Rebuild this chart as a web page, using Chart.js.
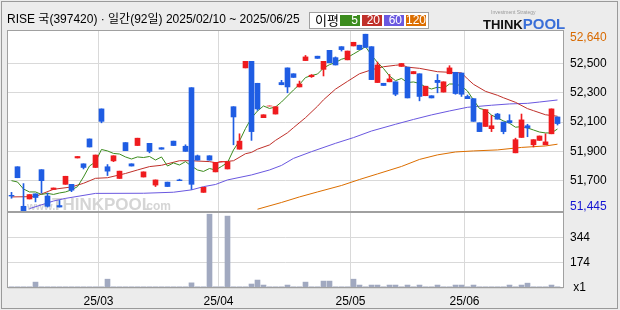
<!DOCTYPE html>
<html>
<head>
<meta charset="utf-8">
<script src="https://cdn.jsdelivr.net/npm/chart.js@4"></script>
<style>
    body{ margin:0; background:#ececec; }
    #wrap{ position:relative; width:620px; height:310px; overflow:hidden; font-family:"Liberation Sans","Noto Sans CJK KR",sans-serif; }
    #chart{ position:absolute; left:0; top:0; }
    #title{ position:absolute; left:7px; top:12px; font-size:12px; line-height:14px; color:#000; white-space:nowrap; }
    #ma_legend{ position:absolute; left:309px; top:12px; width:120px; height:17px; box-sizing:border-box; border:1px solid #a0a0a0; background:#fff; }
    #ma_legend .lbl{ position:absolute; left:5px; top:0; font-size:13px; line-height:15px; }
    #ma_legend .box{ position:absolute; top:2px; width:20px; height:11px; font-size:12px; line-height:11px; color:#fff; text-align:right; box-sizing:border-box; padding-right:2px; }
    #logo{ position:absolute; left:483px; top:9px; white-space:nowrap; }
    #logo .sub{ display:block; font-size:5px; line-height:6px; color:#999; padding-left:8px; }
    #logo .think{ font-weight:bold; font-size:13px; color:#111; }
    #logo .pool{ font-weight:bold; font-size:15px; color:#3a6fd8; }
</style>
</head>
<body>
<div id="wrap">
    <canvas id="chart" width="620" height="310"></canvas>
    <div id="title">RISE 국(397420) · 일간(92일) 2025/02/10 ~ 2025/06/25</div>
    <div id="ma_legend"><span class="lbl">이평</span></div>
    <div id="logo"><span class="sub">Investment Strategy</span><span class="think">THINK</span><span class="pool">POOL</span></div>
</div>
<script>
// daily candles, index 0 = 2025/02/10
const opens = [
    51600,51795,51525,51575,51610,51775,51595,51640,51530,51675,
    51675,51855,51815,51985,51790,52190,51795,51835,51715,51960,
    51815,51940,51725,51955,51670,51925,51690,51970,51705,51935,
    52335,51870,51620,51870,51760,51830,51780,52205,51915,52470,
    52515,52365,52130,52210,52155,52370,52470,52430,52340,52520,
    52410,52550,52460,52590,52540,52615,52525,52620,52625,52700,
    52615,52370,52365,52375,52375,52480,52475,52430,52430,52280,
    52280,52385,52305,52430,52440,52435,52275,52260,52095,52070,
    52055,52155,52100,52110,51890,51995,52075,51945,51975,51945,
    52020,52135];
const highs = [
    51620,51795,51680,51605,51610,51775,51615,51650,51565,51730,
    51675,51865,51815,51985,51875,52190,51810,51870,51765,51960,
    51815,51990,51760,51955,51705,51925,51690,51970,51710,51945,
    52335,51875,51655,51870,51825,51830,51830,52205,52020,52515,
    52515,52365,52150,52210,52205,52385,52470,52430,52380,52555,
    52425,52550,52515,52590,52545,52615,52585,52645,52625,52700,
    52615,52510,52365,52425,52375,52500,52475,52445,52430,52345,
    52280,52425,52375,52485,52440,52435,52285,52260,52095,52185,
    52145,52160,52100,52150,51990,52155,52085,51980,52005,52020,
    52190,52135];
const lows = [
    51580,51720,51495,51575,51555,51615,51520,51640,51520,51675,
    51625,51855,51780,51930,51790,52095,51735,51830,51715,51905,
    51800,51940,51725,51890,51660,51915,51660,51940,51700,51900,
    51640,51840,51620,51840,51760,51830,51780,51945,51915,52470,
    51975,52180,52130,52210,52155,52355,52300,52405,52340,52520,
    52405,52535,52415,52505,52490,52585,52525,52620,52595,52610,
    52390,52370,52350,52375,52280,52480,52265,52430,52245,52280,
    52265,52300,52305,52430,52290,52275,52260,52105,52035,52070,
    52035,52120,52020,52095,51890,51995,52000,51930,51975,51945,
    52020,52080];
const closes = [
    51595,51720,51495,51605,51585,51700,51525,51650,51520,51730,
    51635,51865,51790,51930,51875,52105,51765,51870,51765,51905,
    51800,51990,51760,51900,51705,51915,51660,51940,51700,51900,
    51675,51840,51655,51840,51825,51830,51830,52135,51970,52515,
    52035,52190,52150,52210,52205,52355,52340,52405,52360,52545,
    52420,52535,52515,52505,52490,52595,52585,52645,52595,52610,
    52390,52490,52350,52395,52290,52500,52265,52445,52275,52345,
    52265,52370,52375,52470,52295,52290,52260,52105,52035,52185,
    52075,52120,52035,52095,51980,52115,52060,51980,52005,51965,
    52190,52090];
const volumes = [
    8,8,8,8,40,8,8,8,8,8,
    8,8,8,8,8,8,60,8,8,8,
    8,8,8,8,8,8,8,8,8,8,
    35,8,8,502,8,8,489,8,8,8,
    27,54,20,8,8,8,20,8,8,40,
    8,8,47,47,8,8,8,60,20,8,
    20,20,8,20,20,8,20,8,20,8,
    8,20,8,8,20,20,8,20,8,8,
    8,8,8,20,8,20,33,8,8,8,
    20,8];

// moving averages
const ma5 = [
    51700,51691,51643,51623,51623,51606,51613,51606,51616,51623,
    51637,51659,51725,51800,51828,51913,51903,51886,51882,51862,
    51848,51862,51858,51865,51841,51862,51800,51821,51807,51830,
    51800,51773,51763,51783,51773,51797,51823,51910,51971,52056,
    52128,52176,52210,52193,52203,52237,52278,52319,52357,52404,
    52418,52428,52469,52492,52507,52529,52541,52565,52589,52615,
    52558,52507,52466,52415,52383,52398,52370,52374,52364,52340,
    52326,52338,52331,52360,52360,52346,52312,52251,52193,52183,
    52148,52128,52108,52092,52065,52069,52060,52046,52032,52026,
    52026,52053];
const ma20_days = [0,4,5,7,10,12,14,16,19,21,23,25,28,30,33,34,36,37,39,40,41,43,44,46,47,49,51,52,54,56,58,60,62,64,65,66,68,71,73,75,76,77,79,81,82,84,86,87,89,91];
const ma20 = [51589,51591,51609,51641,51657,51682,51716,51720,51749,51773,51796,51805,51836,51836,51830,51823,51832,51836,51884,51893,51915,51944,51975,52027,52062,52130,52208,52252,52325,52378,52430,52457,52478,52488,52492,52475,52467,52444,52440,52436,52395,52358,52310,52283,52266,52235,52192,52178,52150,52140];
const ma60_days = [3,7,9,14,22,27,30,32,34,36,40,43,45,47,50,54,57,60,64,67,70,73,76,80,83,86,88,91];
const ma60 = [51509,51561,51579,51613,51614,51621,51637,51659,51674,51705,51739,51773,51804,51852,51898,51955,51994,52039,52085,52118,52149,52176,52201,52215,52224,52228,52237,52251];
const ma120_days = [41,45,48,51,55,58,61,65,68,71,74,77,81,85,89,91];
const ma120 = [51505,51551,51589,51623,51667,51708,51746,51797,51845,51876,51896,51903,51910,51927,51937,51949];

const ma_periods = [5, 20, 60, 120];
const ma_colors = ['#3c8c1e', '#c0302a', '#6a58e0', '#dc6e00'];

const month_starts = [15, 35, 57, 76];
const month_labels = ['25/03', '25/04', '25/05', '25/06'];
const price_ticks = [51700, 51900, 52100, 52300, 52500];
const volume_ticks = [0, 174, 344];
const price_high_label = 52640;
const price_low_label = 51445;

const up_color = '#ef1c1f';
const down_color = '#1f5de3';

// legend boxes in the header
const legend = document.getElementById('ma_legend');
ma_periods.forEach((p, k) => {
    const box = document.createElement('span');
    box.className = 'box';
    box.style.left = (30 + k * 22) + 'px';
    box.style.background = ma_colors[k];
    box.textContent = p;
    legend.appendChild(box);
});

function pairs(days, values){
    return values.map((v, k) => ({x: days[k], y: v}));
}

function ma_line(data, color){
    return {
        type: 'line',
        data: data,
        borderColor: color,
        borderWidth: 1,
        pointRadius: 0,
        tension: 0,
        yAxisID: 'y',
        order: 1
    };
}

const candle_colors = closes.map((c, i) => c >= opens[i] ? up_color : down_color);

const panel_plugin = {
    id: 'panel_plugin',
    beforeDraw(chart){
        const {ctx, chartArea} = chart;
        ctx.save();
        ctx.fillStyle = '#ffffff';
        ctx.fillRect(chartArea.left, chartArea.top, chartArea.width, chartArea.height);
        ctx.restore();
    },
    beforeDatasetsDraw(chart){
        // watermark
        const ctx = chart.ctx;
        const y = chart.scales.y.bottom - 2;
        ctx.save();
        ctx.fillStyle = '#d5d5d5';
        ctx.textBaseline = 'alphabetic';
        ctx.font = 'bold 11px "Liberation Sans"';
        ctx.fillText('www.', 27, y);
        ctx.font = 'bold 17px "Liberation Sans"';
        ctx.fillText('THINKPOOL', 52, y);
        ctx.font = 'bold 12px "Liberation Sans"';
        ctx.fillText('.com', 143, y);
        ctx.restore();
    },
    afterDraw(chart){
        const ctx = chart.ctx;
        const ys = chart.scales.y;
        const vs = chart.scales.yv;
        const left = chart.chartArea.left - 0.5;
        const w = chart.chartArea.right - chart.chartArea.left + 1;
        ctx.save();
        ctx.strokeStyle = '#a0a0a0';
        ctx.lineWidth = 1;
        ctx.strokeRect(left, Math.round(ys.top) - 0.5, w, Math.round(ys.bottom - ys.top) + 1);
        ctx.strokeRect(left, Math.round(vs.top) - 0.5, w, Math.round(vs.bottom - vs.top));
        // outer frame
        ctx.strokeStyle = '#9a9a9a';
        ctx.strokeRect(1.5, 1.5, 616, 307);
        // highest / lowest labels
        ctx.font = '12px "Liberation Sans"';
        ctx.textBaseline = 'middle';
        ctx.textAlign = 'left';
        ctx.fillStyle = '#d86a00';
        ctx.fillText(price_high_label.toLocaleString('en-US'), ys.right - 50, ys.top + 6.5);
        ctx.fillStyle = '#1414d2';
        ctx.fillText(price_low_label.toLocaleString('en-US'), ys.right - 50, ys.bottom - 5.5);
        ctx.restore();
    }
};

Chart.defaults.font.family = '"Liberation Sans", sans-serif';
Chart.defaults.font.size = 12;
Chart.defaults.color = '#000';

new Chart(document.getElementById('chart').getContext('2d'), {
    type: 'bar',
    data: {
        datasets: [
            ma_line(ma5.map((v, i) => ({x: i, y: v})), ma_colors[0]),
            ma_line(pairs(ma20_days, ma20), ma_colors[1]),
            ma_line(pairs(ma60_days, ma60), ma_colors[2]),
            ma_line(pairs(ma120_days, ma120), ma_colors[3]),
            {
                label: 'wick',
                data: highs.map((h, i) => ({x: i, y: [lows[i], h]})),
                backgroundColor: candle_colors,
                barThickness: 1,
                grouped: false,
                yAxisID: 'y',
                order: 0
            },
            {
                label: 'body',
                data: opens.map((o, i) => ({x: i, y: [o, closes[i]]})),
                backgroundColor: candle_colors,
                barThickness: 5,
                grouped: false,
                yAxisID: 'y',
                order: 0
            },
            {
                label: 'volume',
                data: volumes.map((v, i) => ({x: i, y: v})),
                backgroundColor: '#a1a9c0',
                barThickness: 5,
                grouped: false,
                yAxisID: 'yv',
                order: 2
            }
        ]
    },
    options: {
        responsive: false,
        animation: false,
        devicePixelRatio: 1,
        layout: {padding: {top: 31, left: 8, right: 0, bottom: 0}},
        plugins: {legend: {display: false}, tooltip: {enabled: false}},
        scales: {
            x: {
                type: 'linear',
                min: -0.583,
                max: 91.917,
                offset: false,
                afterBuildTicks: s => { s.ticks = month_starts.map(i => ({value: i - 0.5})); },
                afterFit: s => { s.height = 22; },
                ticks: {callback: (v, k) => month_labels[k], padding: 6, autoSkip: false, maxRotation: 0},
                grid: {color: '#d9d9d9', drawTicks: false, offset: false},
                border: {display: false}
            },
            y: {
                position: 'right',
                stack: 'panels',
                stackWeight: 181,
                min: 51486,
                max: 52722,
                afterBuildTicks: s => { s.ticks = price_ticks.map(v => ({value: v})); },
                afterFit: s => { s.width = 57; },
                ticks: {padding: 7, callback: v => v.toLocaleString('en-US')},
                grid: {color: '#d9d9d9', drawTicks: false},
                border: {display: false}
            },
            yv: {
                position: 'right',
                stack: 'panels',
                stackWeight: 76,
                min: 0,
                max: 517,
                afterBuildTicks: s => { s.ticks = volume_ticks.map(v => ({value: v})); },
                afterFit: s => { s.width = 57; },
                ticks: {padding: 7, callback: v => v === 0 ? ' x1' : v},
                grid: {color: '#d9d9d9', drawTicks: false},
                border: {display: false}
            }
        }
    },
    plugins: [panel_plugin]
});
</script>
</body>
</html>
